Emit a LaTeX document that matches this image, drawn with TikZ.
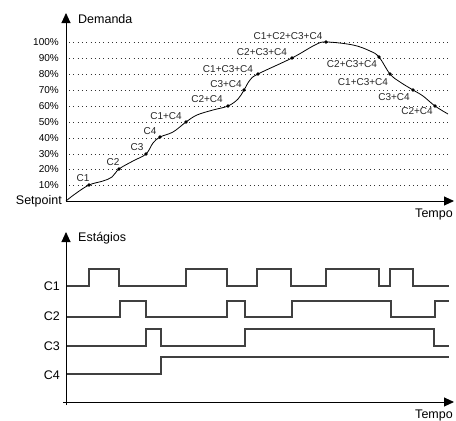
\documentclass[tikz,border=0pt]{standalone}
\usepackage{fontspec}
\setmainfont{Liberation Sans}
\usetikzlibrary{arrows.meta}
\begin{document}
\begin{tikzpicture}[x=1pt,y=-1pt,
  axis/.style={line width=0.9pt,-{Triangle[length=10pt,width=9pt]}},
  grid/.style={dash pattern=on 0.9pt off 3.4pt,line width=0.9pt,black!80},
  big/.style={font=\fontsize{12.5}{13}\selectfont,inner sep=0pt},
  pct/.style={font=\fontsize{10}{11}\selectfont,inner sep=0pt,anchor=east},
  lab/.style={font=\fontsize{10}{11}\selectfont,inner sep=0pt,text=black!85},
  pt/.style={circle,fill=black,inner sep=0pt,minimum size=3.6pt},
  sig/.style={line width=1.1pt,black!75,line join=miter}]
\useasboundingbox (0,0) rectangle (456,421);
% ---------- top chart ----------
\foreach \yy/\t in {185/10\%,169/20\%,154/30\%,138/40\%,122/50\%,106/60\%,90/70\%,74/80\%,58/90\%,42/100\%}{
  \draw[grid] (69,\yy) -- (448,\yy);
  \node[pct] at (59,\yy) {\t};
}
\coordinate (o1) at (66,201);
\coordinate (ytop1) at (66,13);
\coordinate (xend1) at (454,201);
\draw[axis] (o1) -- (ytop1);
\draw[axis] (o1) -- (xend1);
\node[big,anchor=west] (dem) at (78,19) {Demanda};
\node[big,anchor=east] (setp) at (62,201) {Setpoint};
\node[big] (tempo1) at (434,214) {Tempo};
% curve
\draw[line width=0.8pt] plot[smooth,tension=0.6] coordinates {
 (66,201) (75,194) (89,185) (103,181) (112,177) (119,169) (133,161) (146,154)
 (153,143) (160,137) (173,132) (186,122) (197,115) (213,110) (228,106)
 (238,99) (244,90) (250,80) (258,74) (292,58) (315,45) (326,42) (353,45)
 (370,51) (379,57) (390,74) (400,82) (413,90) (423,96) (435,106) (448,114)};
\foreach \n/\px/\py in {p1/89/185,p2/119/169,p3/146/154,p4/160/137,p5/186/122,p6/228/106,
  p7/244/90,p8/258/74,p9/292/58,p10/326/42,p11/379/57,p12/390/74,p13/413/90,p14/435/106}
  \node[pt] (\n) at (\px,\py) {};
\node[lab] at (83,178) {C1};
\node[lab] at (113,162) {C2};
\node[lab] at (137,147) {C3};
\node[lab] at (150,131) {C4};
\node[lab] at (166,116) {C1+C4};
\node[lab] at (207,99) {C2+C4};
\node[lab] at (226,84) {C3+C4};
\node[lab] at (228,69) {C1+C3+C4};
\node[lab] at (262,52) {C2+C3+C4};
\node[lab] at (288,36) {C1+C2+C3+C4};
\node[lab] at (352,64) {C2+C3+C4};
\node[lab] at (363,82) {C1+C3+C4};
\node[lab] at (394,97) {C3+C4};
\node[lab] at (417,111) {C2+C4};
% ---------- bottom chart ----------
\coordinate (o2) at (66,405);
\coordinate (ytop2) at (66,232);
\coordinate (xs2) at (63,402);
\coordinate (xend2) at (454,402);
\draw[axis] (o2) -- (ytop2);
\draw[axis] (xs2) -- (xend2);
\node[big,anchor=west] (est) at (78,238) {Estágios};
\node[big] (tempo2) at (434,415) {Tempo};
\node[big,anchor=east] (c1) at (60,286) {C1};
\node[big,anchor=east] (c2) at (60,316) {C2};
\node[big,anchor=east] (c3) at (60,346) {C3};
\node[big,anchor=east] (c4) at (60,375) {C4};
% C1: low 286 high 269
\draw[sig] (67,286) -- (89,286) |- (119,269) |- (186,286) |- (227,269) |- (257,286)
  |- (291,269) |- (326,286) |- (379,269) |- (390,286) |- (413,269) |- (449,286);
% C2: low 317 high 301
\draw[sig] (67,317) -- (120,317) |- (146,301) |- (227,317) |- (245,301) |- (292,317)
  |- (391,301) |- (435,317) |- (449,301);
% C3: low 346 high 329
\draw[sig] (67,346) -- (146,346) |- (161,329) |- (245,346) |- (434,329) |- (449,346);
% C4: low 374 high 357
\draw[sig] (67,374) -- (161,374) |- (449,357);
\end{tikzpicture}
\end{document}
